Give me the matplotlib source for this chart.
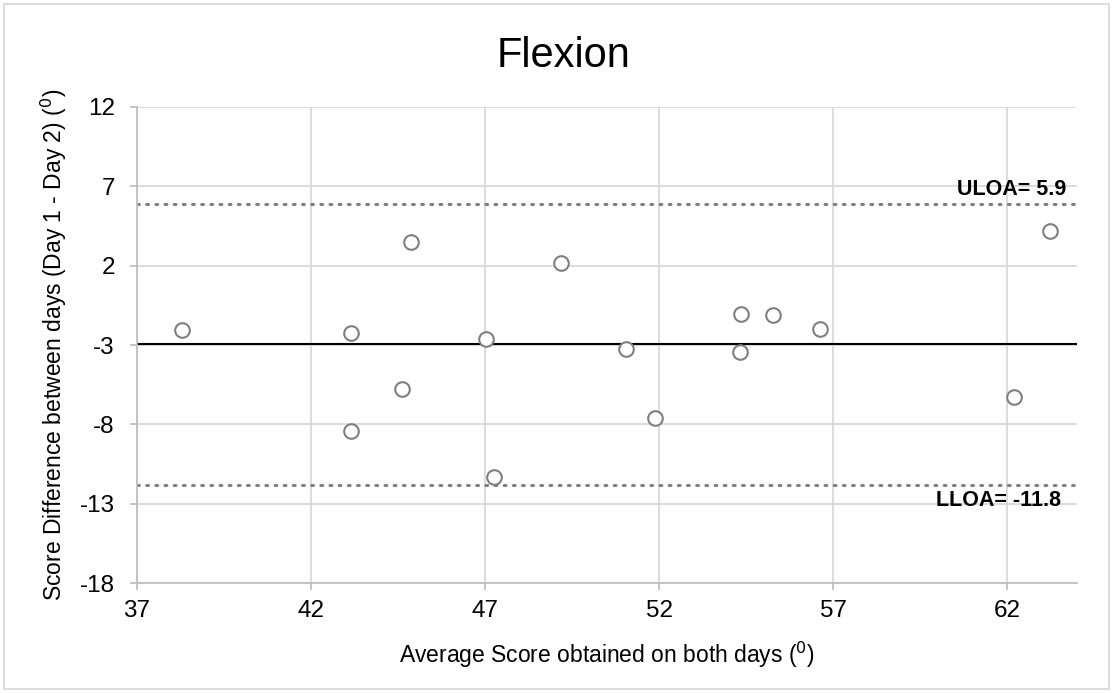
import matplotlib
matplotlib.use("Agg")
import matplotlib.pyplot as plt
from matplotlib.patches import Rectangle

plt.rcParams['font.family'] = ['Liberation Sans', 'DejaVu Sans']
plt.rcParams['axes.unicode_minus'] = False

avg_score = [38.29, 43.15, 43.15, 44.61, 44.87, 47.03, 47.26, 49.18,
             51.05, 51.89, 54.36, 54.33, 55.28, 56.63, 62.2, 63.23]
diff_score = [-2.07, -2.24, -8.42, -5.76, 3.48, -2.64, -11.31, 2.15,
              -3.27, -7.58, -1.06, -3.46, -1.12, -2.01, -6.25, 4.2]
mean_diff = -2.95
uloa = 5.9
lloa = -11.8
x_ticks = [37, 42, 47, 52, 57, 62]
y_ticks = [12, 7, 2, -3, -8, -13, -18]

fig = plt.figure(figsize=(11.13, 6.93), dpi=100)
ax = fig.add_axes([0.1231, 0.1587, 0.9677 - 0.1231, 0.8456 - 0.1587])

ax.set_xlim(37, 64)
ax.set_ylim(-18, 12)
ax.set_xticks(x_ticks)
ax.set_yticks(y_ticks)
ax.grid(True, color='#d9d9d9', linewidth=1.3)
ax.set_axisbelow(True)
for s in ['top', 'right']:
    ax.spines[s].set_visible(False)
ax.spines['left'].set_color('#bfbfbf')
ax.spines['bottom'].set_color('#bfbfbf')
ax.spines['left'].set_linewidth(1.3)
ax.spines['bottom'].set_linewidth(1.3)
ax.tick_params(axis='both', colors='#bfbfbf', length=5, width=1.3,
               labelcolor='#000000', labelsize=17.5)
ax.tick_params(axis='y', pad=11)
ax.tick_params(axis='x', pad=7)

ax.axhline(mean_diff, color='black', linewidth=1.5, zorder=2)
ax.axhline(uloa, color='#808080', linewidth=2.2, linestyle=(0, (0.6, 2.4)),
           dash_capstyle='round', zorder=2)
ax.axhline(lloa, color='#808080', linewidth=2.2, linestyle=(0, (0.6, 2.4)),
           dash_capstyle='round', zorder=2)

ax.plot(avg_score, diff_score, linestyle='none', marker='o', markersize=10.5,
        markerfacecolor='white', markeredgecolor='#7f7f7f',
        markeredgewidth=1.5, zorder=3)

ax.text(63.7, uloa + 0.25, f'ULOA= {uloa}', ha='right', va='bottom',
        fontsize=15.5, fontweight='bold')
ax.text(63.55, lloa - 0.35, f'LLOA= {lloa}', ha='right', va='top',
        fontsize=15.5, fontweight='bold')

fig.text(564 / 1113, 1 - 67 / 693, 'Flexion', ha='center',
         va='baseline', fontsize=30)
ax.set_xlabel('Average Score obtained on both days ($^{0}$)', fontsize=16.5,
              labelpad=13)
ax.set_ylabel('Score Difference between days (Day 1 - Day 2) ($^{0}$)',
              fontsize=16.5, labelpad=8)

fig.patches.append(Rectangle((4 / 1113, 4 / 693), 1 - 8 / 1113, 1 - 8 / 693,
                             transform=fig.transFigure, fill=False,
                             edgecolor='#d9d9d9', linewidth=1.3))

fig.savefig('out.png', dpi=100)
